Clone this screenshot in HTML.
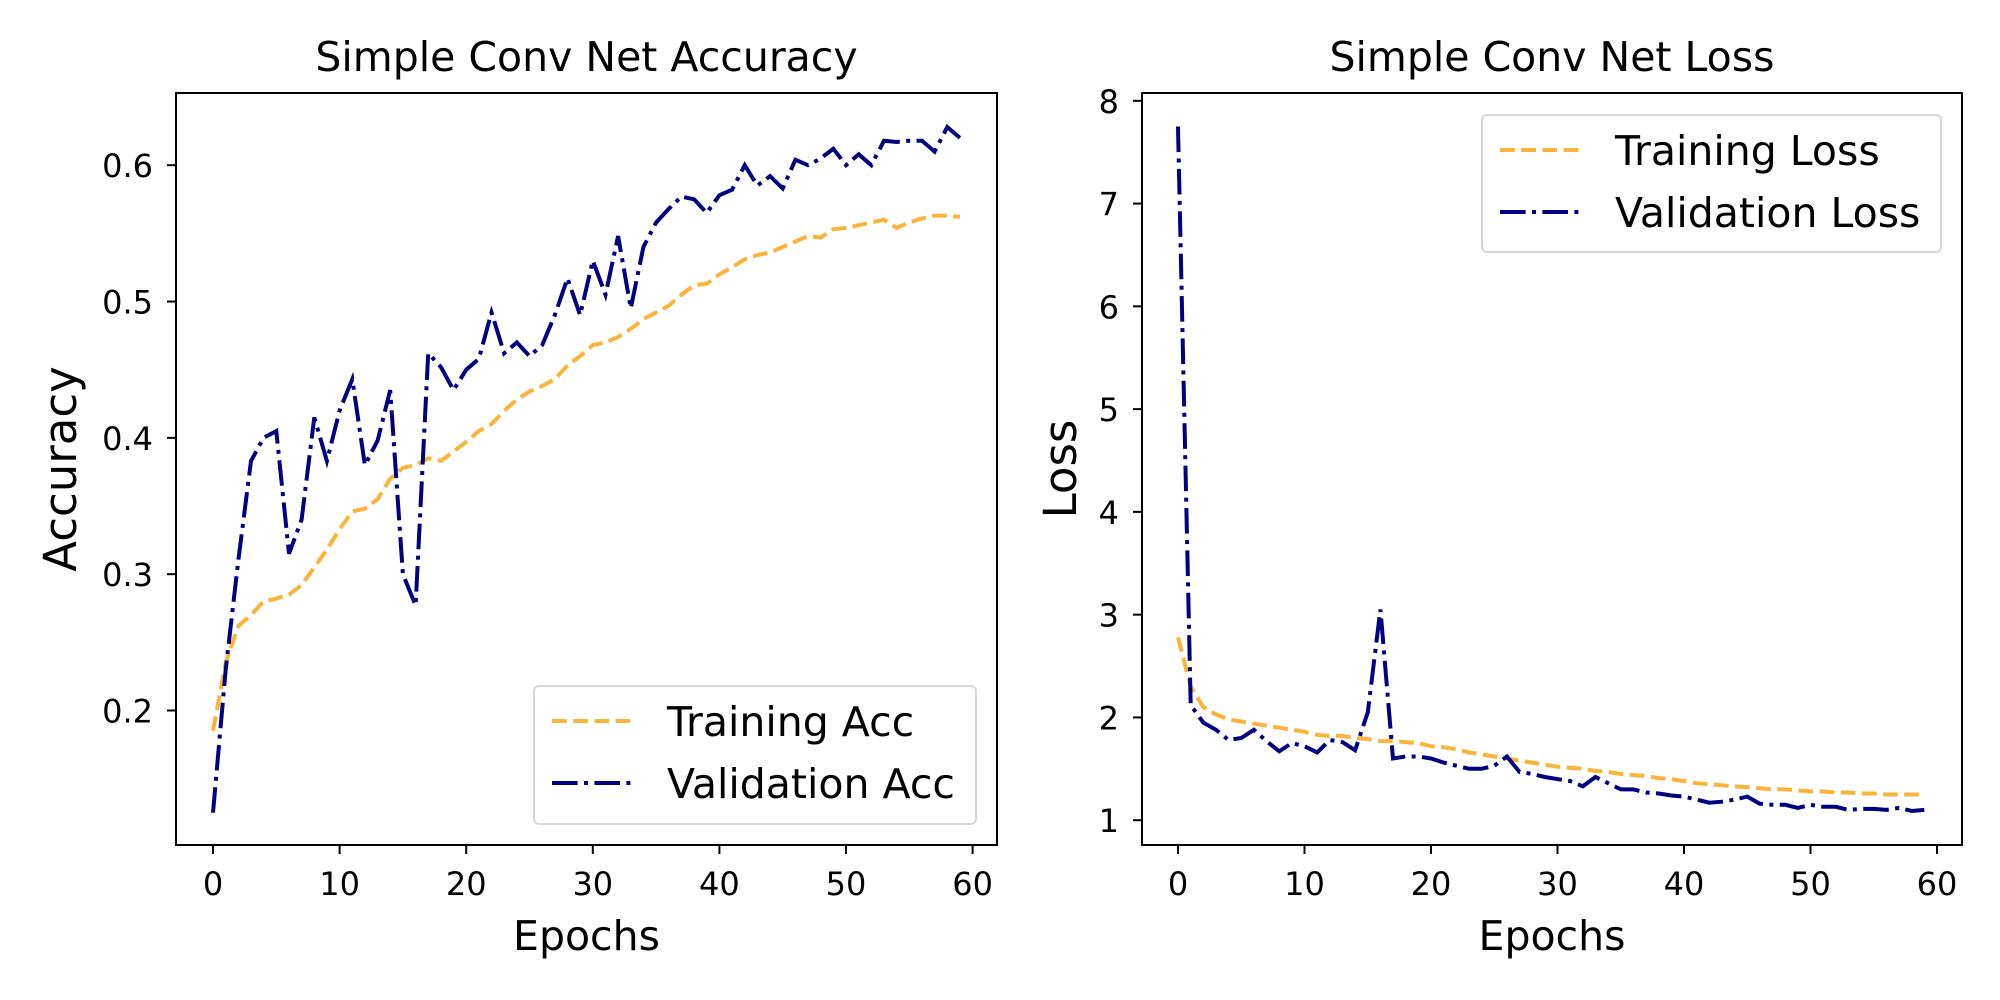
<!DOCTYPE html>
<html><head><meta charset="utf-8"><style>
html,body{margin:0;padding:0;background:#fff;}
svg{display:block;font-family:"DejaVu Sans","Liberation Sans",sans-serif;}
</style></head><body>
<svg id="fig" width="2000" height="1000" viewBox="0 0 2000 1000"></svg>
<script>
const epochs = Array.from({length:60},(_,i)=>i);
const trainAcc = [0.185,0.235,0.262,0.27,0.28,0.282,0.285,0.292,0.305,0.318,0.333,0.346,0.348,0.355,0.37,0.378,0.38,0.385,0.383,0.39,0.397,0.405,0.41,0.42,0.428,0.434,0.438,0.443,0.453,0.46,0.468,0.47,0.474,0.48,0.487,0.492,0.497,0.505,0.512,0.513,0.52,0.525,0.531,0.534,0.536,0.54,0.544,0.548,0.547,0.553,0.554,0.556,0.558,0.56,0.554,0.558,0.561,0.563,0.563,0.562];
const valAcc = [0.125,0.23,0.31,0.383,0.40,0.405,0.315,0.34,0.415,0.383,0.42,0.443,0.38,0.398,0.435,0.30,0.277,0.462,0.452,0.435,0.45,0.458,0.492,0.462,0.47,0.46,0.468,0.49,0.517,0.49,0.53,0.505,0.548,0.495,0.54,0.558,0.568,0.577,0.575,0.565,0.578,0.582,0.60,0.585,0.592,0.583,0.604,0.6,0.605,0.612,0.6,0.608,0.6,0.618,0.617,0.618,0.618,0.61,0.628,0.62];
const trainLoss = [2.78,2.3,2.1,2.03,1.98,1.96,1.94,1.92,1.9,1.88,1.86,1.83,1.82,1.82,1.8,1.79,1.77,1.77,1.76,1.75,1.72,1.71,1.69,1.66,1.64,1.62,1.6,1.58,1.56,1.54,1.52,1.51,1.5,1.48,1.47,1.45,1.44,1.43,1.41,1.4,1.38,1.36,1.35,1.34,1.33,1.32,1.31,1.3,1.3,1.29,1.28,1.28,1.27,1.27,1.26,1.26,1.25,1.25,1.25,1.25];
const valLoss = [7.75,2.12,1.95,1.88,1.78,1.8,1.88,1.77,1.67,1.75,1.72,1.66,1.78,1.76,1.68,2.05,3.05,1.6,1.62,1.62,1.6,1.56,1.53,1.5,1.5,1.53,1.62,1.47,1.45,1.42,1.4,1.38,1.33,1.42,1.36,1.3,1.3,1.27,1.26,1.24,1.23,1.2,1.17,1.18,1.2,1.23,1.16,1.15,1.15,1.12,1.15,1.13,1.13,1.1,1.11,1.11,1.1,1.12,1.09,1.1];
const xTicks = [0,10,20,30,40,50,60];
const accTicks = [0.2,0.3,0.4,0.5,0.6];
const accTickLabels = ["0.2","0.3","0.4","0.5","0.6"];
const lossTicks = [1,2,3,4,5,6,7,8];
const lossTickLabels = ["1","2","3","4","5","6","7","8"];

const NS="http://www.w3.org/2000/svg";
const svg=document.getElementById('fig');
const ORANGE="#fbb43a", NAVY="#000080";
function mk(tag,attrs,parent){const e=document.createElementNS(NS,tag);for(const k in attrs)e.setAttribute(k,attrs[k]);(parent||svg).appendChild(e);return e;}

function panel(cfg){
  const g=mk('g',{});
  
  
  const X=v=>cfg.x0px+(v-0)*(cfg.x60px-cfg.x0px)/60;
  const Y=v=>cfg.yApx+(v-cfg.yA)*(cfg.yBpx-cfg.yApx)/(cfg.yB-cfg.yA);
  cfg.series.forEach(s=>{
    const d=s.data.map((v,i)=>(i?'L':'M')+X(epochs[i]).toFixed(1)+','+Y(v).toFixed(1)).join(' ');
    const p=mk('path',{d:d,fill:'none',stroke:s.color,'stroke-width':4,'stroke-dasharray':s.dash},g);
    
    
  });
  const f=mk('rect',{x:cfg.L,y:cfg.T,width:cfg.R-cfg.L,height:cfg.B-cfg.T,fill:'none',stroke:'#000','stroke-width':2},g);
  
  
  xTicks.forEach(t=>{
    const x=X(t);
    const l=mk('line',{x1:x,x2:x,y1:cfg.B,y2:cfg.B+9,stroke:'#000','stroke-width':2},g);
    
    
    const tx=mk('text',{x:x,y:895,'text-anchor':'middle','font-size':32},g);
    tx.textContent=String(t);
    
    
  });
  cfg.yTicks.forEach((t,i)=>{
    const y=Y(t);
    const l=mk('line',{x1:cfg.L-9,x2:cfg.L,y1:y,y2:y,stroke:'#000','stroke-width':2},g);
    
    
    const tx=mk('text',{x:cfg.L-23,y:y+12,'text-anchor':'end','font-size':32},g);
    tx.textContent=cfg.yLabels[i];
    
    
  });
  const tt=mk('text',{x:(cfg.L+cfg.R)/2,y:71,'text-anchor':'middle','font-size':41},g);
  tt.textContent=cfg.title;
  
  
  const xl=mk('text',{x:(cfg.L+cfg.R)/2,y:950,'text-anchor':'middle','font-size':41},g);
  xl.textContent='Epochs';
  
  
  const yl=mk('text',{x:0,y:0,'text-anchor':'middle','font-size':45,transform:`translate(${cfg.ylx},${(cfg.T+cfg.B)/2}) rotate(-90)`},g);
  yl.textContent=cfg.ylabel;
  
  
  const lg=mk('g',{},g);
  
  
  const lb=cfg.leg;
  mk('rect',{x:lb.x,y:lb.y,width:lb.w,height:lb.h,rx:5,fill:'#fff','fill-opacity':0.8,stroke:'#d6d6d6','stroke-width':2},lg);
  cfg.series.forEach((s,i)=>{
    const cy=lb.y+35+i*62;
    const e=mk('g',{},lg);
    
    
    mk('line',{x1:lb.x+18,x2:lb.x+102,y1:cy,y2:cy,stroke:s.color,'stroke-width':4,'stroke-dasharray':s.dash},e);
    const t=mk('text',{x:lb.x+133,y:cy+15,'font-size':41},e);
    t.textContent=s.label;
  });
}

panel({name:'accuracy-chart',title:'Simple Conv Net Accuracy',ylabel:'Accuracy',ylx:76,
  L:176,R:997,T:93,B:845,x0px:213,x60px:972.6,yA:0.2,yApx:710.5,yB:0.6,yBpx:165.2,
  yTicks:accTicks,yLabels:accTickLabels,
  leg:{x:534,y:686,w:442,h:138},
  series:[{id:'training-acc-line',label:'Training Acc',data:trainAcc,color:ORANGE,dash:'14.8 6.4'},
          {id:'validation-acc-line',label:'Validation Acc',data:valAcc,color:NAVY,dash:'25.6 6.4 4 6.4'}]});
panel({name:'loss-chart',title:'Simple Conv Net Loss',ylabel:'Loss',ylx:1076,
  L:1142,R:1962,T:93,B:845,x0px:1178,x60px:1937,yA:1,yApx:820.2,yB:8,yBpx:100.8,
  yTicks:lossTicks,yLabels:lossTickLabels,
  leg:{x:1482,y:115,w:459,h:137},
  series:[{id:'training-loss-line',label:'Training Loss',data:trainLoss,color:ORANGE,dash:'14.8 6.4'},
          {id:'validation-loss-line',label:'Validation Loss',data:valLoss,color:NAVY,dash:'25.6 6.4 4 6.4'}]});
</script>
</body></html>
